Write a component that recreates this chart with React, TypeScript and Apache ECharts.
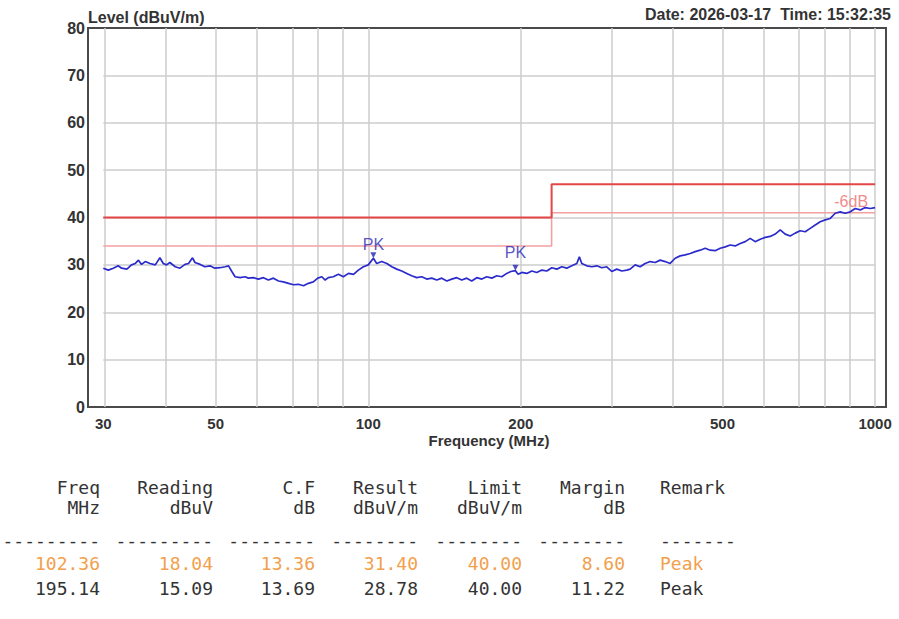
import React, { useEffect, useRef } from 'react';
import * as echarts from 'echarts';

// ---- data ----
const GRID_FREQS = [30, 40, 50, 60, 70, 80, 90, 100, 200, 300, 400, 500, 600, 700, 800, 900, 1000];
const X_TICKS = [30, 50, 100, 200, 500, 1000];
const H_GRID_LEVELS = [10, 20, 30, 40, 50, 60, 70];

const LIMIT_FREQ = [30, 230, 230, 1000];
const LIMIT_LEVEL = [40, 40, 47, 47];
const LIMIT6_LEVEL = [34, 34, 41, 41];

const PEAK_FREQ = [102.36, 195.14];
const PEAK_LEVEL = [31.4, 28.78];

const TRACE_FREQ = [
  30.0, 30.7, 31.4, 32.1, 32.6, 33.4, 34.1, 34.7, 35.2, 35.7, 36.3, 37.1, 38.0, 38.8, 39.4, 40.0,
  40.6, 41.6, 42.5, 43.5, 44.2, 45.0, 45.5, 46.6, 47.6, 48.7, 49.8, 51.0, 52.2, 53.0, 53.8, 54.6,
  55.9, 57.1, 58.0, 59.3, 60.7, 62.1, 63.5, 65.0, 66.5, 68.0, 69.6, 71.2, 72.8, 74.5, 76.2, 77.9,
  79.5, 81.0, 82.2, 83.4, 85.3, 87.3, 89.3, 91.4, 93.5, 95.6, 97.8, 100.0, 102.36, 103.9, 106.3,
  108.8, 111.3, 113.8, 116.4, 119.1, 121.8, 124.6, 127.5, 130.4, 133.4, 136.5, 139.6, 142.9, 146.1,
  149.5, 152.9, 156.4, 160.0, 163.7, 167.5, 171.3, 175.3, 179.3, 183.4, 187.6, 191.1, 195.14, 197.5,
  200.9, 205.5, 210.2, 215.0, 220.0, 225.0, 230.2, 235.5, 240.9, 246.4, 252.1, 257.9, 260.9, 263.8,
  269.9, 276.1, 282.4, 288.9, 295.5, 302.3, 309.3, 316.4, 323.7, 328.6, 336.2, 343.9, 351.8, 359.9,
  368.2, 376.6, 385.3, 394.1, 403.2, 412.5, 422.0, 431.7, 441.6, 451.7, 462.1, 472.7, 483.6, 494.7,
  506.1, 517.7, 529.6, 541.8, 554.3, 567.0, 580.0, 593.4, 607.0, 620.9, 635.2, 649.8, 664.7, 680.0,
  695.7, 711.4, 728.0, 744.7, 761.8, 779.3, 797.3, 815.6, 834.3, 853.5, 873.1, 893.2, 913.7, 934.7,
  956.2, 978.2, 1000,
];
const TRACE_LEVEL = [
  29.3, 28.9, 29.3, 29.8, 29.3, 29.1, 30.0, 30.3, 31.0, 30.1, 30.7, 30.3, 30.0, 31.5, 30.3, 30.0,
  30.5, 29.6, 29.3, 30.1, 30.3, 31.5, 30.5, 30.1, 29.6, 29.8, 29.3, 29.4, 29.6, 29.8, 28.6, 27.5,
  27.3, 27.5, 27.2, 27.3, 27.0, 27.3, 26.8, 27.2, 26.6, 26.4, 26.1, 25.8, 25.9, 25.6, 26.1, 26.4,
  27.2, 27.5, 26.8, 27.3, 27.5, 28.0, 27.5, 28.2, 28.0, 28.9, 29.6, 30.0, 31.4, 30.3, 30.7,
  30.3, 29.6, 29.1, 28.7, 28.2, 27.7, 27.3, 27.5, 27.0, 27.2, 26.8, 27.2, 26.6, 27.0,
  27.3, 26.8, 27.2, 26.6, 27.3, 27.0, 27.5, 27.2, 27.7, 27.5, 28.2, 28.6, 28.78, 28.0,
  28.4, 28.2, 28.7, 28.4, 28.9, 28.7, 29.4, 29.1, 29.6, 29.3, 29.8, 30.3, 31.7, 30.3,
  29.8, 29.6, 29.8, 29.4, 29.6, 28.6, 29.1, 28.7, 28.9, 29.1, 30.0, 29.6, 30.3, 30.7,
  30.5, 31.0, 30.7, 30.3, 31.4, 31.9, 32.1, 32.4, 32.8, 33.1, 33.5, 33.1, 33.0, 33.5,
  33.8, 34.2, 34.0, 34.5, 34.9, 35.6, 34.9, 35.4, 35.8, 36.0, 36.5, 37.4, 36.5, 36.1,
  36.7, 37.2, 37.0, 37.7, 38.4, 39.1, 39.5, 39.8, 40.9, 41.2, 40.9, 41.2, 41.9, 41.6,
  42.1, 41.9, 42.1,
];

const TITLE = 'Level (dBuV/m)';
const DATE_TEXT = 'Date: 2026-03-17  Time: 15:32:35';
const X_NAME = 'Frequency (MHz)';
const DB6_LABEL = '-6dB';
const DB6_LABEL_FREQ = 897;

const TABLE_HEAD1 = ['Freq', 'Reading', 'C.F', 'Result', 'Limit', 'Margin', 'Remark'];
const TABLE_HEAD2 = ['MHz', 'dBuV', 'dB', 'dBuV/m', 'dBuV/m', 'dB', ''];
const TABLE_DASH = ['---------', '---------', '--------', '--------', '--------', '--------', '-------'];
const TABLE_ROW1 = ['102.36', '18.04', '13.36', '31.40', '40.00', '8.60', 'Peak'];
const TABLE_ROW2 = ['195.14', '15.09', '13.69', '28.78', '40.00', '11.22', 'Peak'];

const lg = (v: number) => Math.log10(v);

export default function App() {
  const ref = useRef<HTMLDivElement>(null);

  useEffect(() => {
    document.body.style.margin = '0';
    const chart = echarts.init(ref.current!, null, { renderer: 'svg' });

    const SANS = '"Liberation Sans", Arial, sans-serif';
    const MONO = '"DejaVu Sans Mono", monospace';

    const trace = TRACE_FREQ.map((f, i) => [lg(f), TRACE_LEVEL[i]]);
    const limit = LIMIT_FREQ.map((f, i) => [lg(f), LIMIT_LEVEL[i]]);
    const limit6 = LIMIT_FREQ.map((f, i) => [lg(f), LIMIT6_LEVEL[i]]);
    const peakOffsets = [-11, -15];
    const peaks = PEAK_FREQ.map((f, i) => ({
      value: [lg(f), PEAK_LEVEL[i]],
      label: { offset: [0, peakOffsets[i]] },
    }));

    const xMin = lg(GRID_FREQS[0]);
    const xMax = lg(GRID_FREQS[GRID_FREQS.length - 1]);
    const gridMarks: any[] = [
      ...GRID_FREQS.map((f) => ({ xAxis: lg(f) })),
      ...H_GRID_LEVELS.map((l) => [{ coord: [xMin, l] }, { coord: [xMax, l] }]),
    ];

    const colRight = [100, 213, 315, 418, 522, 625];
    const remarkLeft = 660;
    const rowY = [487, 507, 540, 563, 588];
    const rows = [TABLE_HEAD1, TABLE_HEAD2, TABLE_DASH, TABLE_ROW1, TABLE_ROW2];
    const rowColor = ['#333333', '#333333', '#333333', '#f2a04c', '#333333'];
    const tableTexts: any[] = [];
    rows.forEach((row, r) => {
      row.forEach((cell, c) => {
        if (!cell) return;
        const isRemark = c === 6;
        tableTexts.push({
          type: 'text',
          x: isRemark ? remarkLeft : colRight[c],
          y: rowY[r],
          style: {
            text: cell,
            fill: rowColor[r],
            font: `18px ${MONO}`,
            textAlign: isRemark ? 'left' : 'right',
            textVerticalAlign: 'middle',
          },
        });
      });
    });

    const option: any = {
      animation: false,
      backgroundColor: '#ffffff',
      grid: {
        left: 88,
        right: 13,
        top: 28,
        bottom: 212,
        show: true,
        borderColor: '#4a4a4a',
        borderWidth: 2,
        backgroundColor: 'transparent',
      },
      xAxis: {
        type: 'value',
        min: 1.447,
        max: 3.0215,
        axisLine: { show: false },
        axisTick: { show: false },
        splitLine: { show: false },
        axisLabel: {
          customValues: X_TICKS.map(lg),
          formatter: (v: number) => String(Math.round(Math.pow(10, v))),
          color: '#333',
          fontWeight: 'bold',
          fontSize: 15,
          fontFamily: SANS,
          margin: 9,
        },
      },
      yAxis: {
        type: 'value',
        min: 0,
        max: 80,
        interval: 10,
        axisLine: { show: false },
        axisTick: { show: false },
        splitLine: { show: false },
        axisLabel: {
          color: '#333',
          fontWeight: 'bold',
          fontSize: 16,
          fontFamily: SANS,
          margin: 3,
        },
      },
      graphic: [
        {
          type: 'text',
          x: 88,
          y: 17,
          style: { text: TITLE, fill: '#333', font: `bold 16px ${SANS}`, textAlign: 'left', textVerticalAlign: 'middle' },
        },
        {
          type: 'text',
          x: 891,
          y: 14,
          style: { text: DATE_TEXT, fill: '#333', font: `bold 16px ${SANS}`, textAlign: 'right', textVerticalAlign: 'middle' },
        },
        {
          type: 'text',
          x: 489,
          y: 440,
          style: { text: X_NAME, fill: '#333', font: `bold 15px ${SANS}`, textAlign: 'center', textVerticalAlign: 'middle' },
        },
        ...tableTexts,
      ],
      series: [
        {
          name: 'grid',
          type: 'line',
          data: [],
          silent: true,
          z: 1,
          markLine: {
            silent: true,
            z: 1,
            symbol: ['none', 'none'],
            label: { show: false },
            lineStyle: { color: '#cdcdcd', width: 1.5, type: 'solid' },
            emphasis: { disabled: true },
            data: gridMarks,
          },
        },
        {
          name: 'Limit -6dB',
          type: 'line',
          data: limit6,
          showSymbol: false,
          symbol: 'none',
          silent: true,
          z: 2,
          lineStyle: { color: '#f2a0a0', width: 1.6 },
          markPoint: {
            silent: true,
            z: 6,
            symbol: 'rect',
            symbolSize: 1,
            itemStyle: { color: 'rgba(0,0,0,0)' },
            label: {
              show: true,
              formatter: DB6_LABEL,
              position: 'inside',
              offset: [0, -11],
              color: '#f08c8c',
              fontSize: 16,
              fontFamily: SANS,
            },
            data: [{ coord: [lg(DB6_LABEL_FREQ), LIMIT6_LEVEL[3]] }],
          },
        },
        {
          name: 'Limit',
          type: 'line',
          data: limit,
          showSymbol: false,
          symbol: 'none',
          silent: true,
          z: 3,
          lineStyle: { color: '#e44545', width: 2 },
        },
        {
          name: 'Level',
          type: 'line',
          data: trace,
          showSymbol: false,
          symbol: 'none',
          silent: true,
          z: 4,
          lineStyle: { color: '#2b2bcc', width: 1.7 },
        },
        {
          name: 'PK',
          type: 'scatter',
          data: peaks,
          silent: true,
          z: 5,
          symbol: 'path://M0,0 L10,0 L5,10 Z',
          symbolSize: [6, 6],
          symbolOffset: [0, -3],
          itemStyle: { color: '#2424b8' },
          label: {
            show: true,
            formatter: 'PK',
            position: 'inside',
            color: '#2828b8',
            fontSize: 16,
            fontFamily: SANS,
          },
        },
      ],
    };

    chart.setOption(option);
    return () => chart.dispose();
  }, []);

  return <div ref={ref} style={{ width: 899, height: 619 }} />;
}
